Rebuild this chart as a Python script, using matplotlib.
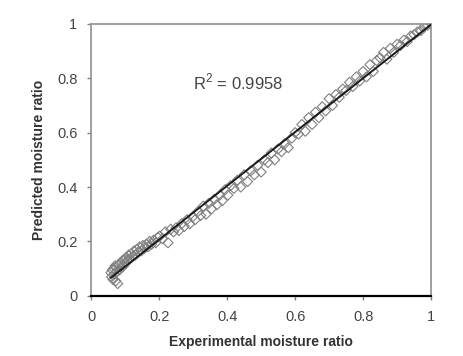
import matplotlib.pyplot as plt
import numpy as np

# experimental vs predicted moisture ratio
mr_exp = [0.058, 0.060, 0.062, 0.064, 0.066, 0.068, 0.070, 0.072, 0.074, 0.076,
          0.078, 0.080, 0.083, 0.086, 0.089, 0.092, 0.095, 0.098, 0.101, 0.104,
          0.107, 0.110, 0.114, 0.118, 0.122, 0.126, 0.130, 0.134, 0.138, 0.142,
          0.147, 0.152, 0.157, 0.162, 0.167, 0.172, 0.178, 0.184, 0.190, 0.196,
          0.202, 0.210, 0.218, 0.226, 0.234, 0.242, 0.250, 0.258, 0.266, 0.274,
          0.282, 0.290,
          0.298, 0.306, 0.314, 0.322, 0.330, 0.338, 0.346, 0.354, 0.362, 0.370,
          0.378, 0.386, 0.394, 0.402, 0.410, 0.420, 0.430, 0.440, 0.450, 0.460,
          0.470, 0.480, 0.490, 0.500, 0.510, 0.520, 0.530, 0.540, 0.550, 0.560,
          0.570, 0.580, 0.590,
          0.600, 0.610, 0.620, 0.630, 0.640, 0.650, 0.660, 0.670, 0.680, 0.690,
          0.700, 0.710, 0.720, 0.730, 0.740, 0.750, 0.760, 0.770, 0.780, 0.790,
          0.800, 0.810, 0.820, 0.830, 0.840, 0.850, 0.860, 0.870, 0.880, 0.890,
          0.900, 0.910, 0.920, 0.930, 0.940, 0.950, 0.960, 0.970, 0.980, 0.990,
          1.000]
mr_pred = [0.085, 0.070, 0.095, 0.060, 0.100, 0.080, 0.110, 0.055, 0.105, 0.090,
           0.045, 0.115, 0.095, 0.120, 0.105, 0.130, 0.110, 0.135, 0.120, 0.140,
           0.130, 0.150, 0.135, 0.155, 0.145, 0.165, 0.150, 0.170, 0.160, 0.180,
           0.165, 0.185, 0.175, 0.190, 0.180, 0.200, 0.190, 0.205, 0.195, 0.215,
           0.220, 0.210, 0.235, 0.195, 0.245, 0.235, 0.250, 0.240, 0.265, 0.255,
           0.280, 0.265,
           0.290, 0.280, 0.310, 0.295, 0.330, 0.300, 0.340, 0.320, 0.355, 0.335,
           0.370, 0.350, 0.390, 0.370, 0.405, 0.395, 0.425, 0.400, 0.445, 0.420,
           0.460, 0.445, 0.480, 0.455, 0.500, 0.490, 0.525, 0.500, 0.540, 0.530,
           0.560, 0.545, 0.580,
           0.600, 0.595, 0.630, 0.605, 0.655, 0.630, 0.675, 0.655, 0.695, 0.680,
           0.725, 0.700, 0.740, 0.730, 0.760, 0.755, 0.785, 0.770, 0.805, 0.790,
           0.825, 0.805, 0.850, 0.825, 0.865, 0.875, 0.895, 0.870, 0.910, 0.895,
           0.925, 0.920, 0.940, 0.935, 0.955, 0.960, 0.970, 0.975, 0.990, 0.995,
           1.000]
ticks = [0, 0.2, 0.4, 0.6, 0.8, 1]
tick_labels = ["0", "0.2", "0.4", "0.6", "0.8", "1"]
r2_text = "R$^2$ = 0.9958"

plt.rcParams["font.family"] = ["Liberation Sans", "DejaVu Sans"]
plt.rcParams["mathtext.fontset"] = "custom"
plt.rcParams["mathtext.rm"] = "Liberation Sans"


def main():
    x = np.array(mr_exp)
    y = np.array(mr_pred)
    slope, intercept = np.polyfit(x, y, 1)
    fit_x = np.array([x.min(), x.max()])

    fig = plt.figure(figsize=(4.63, 3.56), dpi=100)
    ax = fig.add_axes([0.197, 0.169, 0.734, 0.764])

    ax.scatter(x, y, marker="D", s=26, facecolors="none", edgecolors="#808080",
               linewidths=0.8, zorder=2)
    ax.plot(fit_x, slope * fit_x + intercept, color="#1a1a1a", lw=1.4, zorder=3)

    ax.set_xlim(0, 1)
    ax.set_ylim(0, 1)
    ax.set_xticks(ticks)
    ax.set_yticks(ticks)
    ax.set_xticklabels(tick_labels)
    ax.set_yticklabels(tick_labels)
    ax.tick_params(direction="out", length=3, width=1, colors="#808080",
                   labelcolor="#444444", labelsize=10.5, pad=7)

    for side in ["left", "top", "right"]:
        ax.spines[side].set_color("#909090")
        ax.spines[side].set_linewidth(1.2)
    ax.spines["bottom"].set_color("black")
    ax.spines["bottom"].set_linewidth(1.6)

    ax.set_xlabel("Experimental moisture ratio", fontsize=10, fontweight="bold",
                  color="#333333", labelpad=8)
    ax.set_ylabel("Predicted moisture ratio", fontsize=10, fontweight="bold",
                  color="#333333", labelpad=8)
    ax.text(0.30, 0.76, r2_text, fontsize=12, color="#444444")

    fig.savefig("out.png", dpi=100)


if __name__ == "__main__":
    main()
